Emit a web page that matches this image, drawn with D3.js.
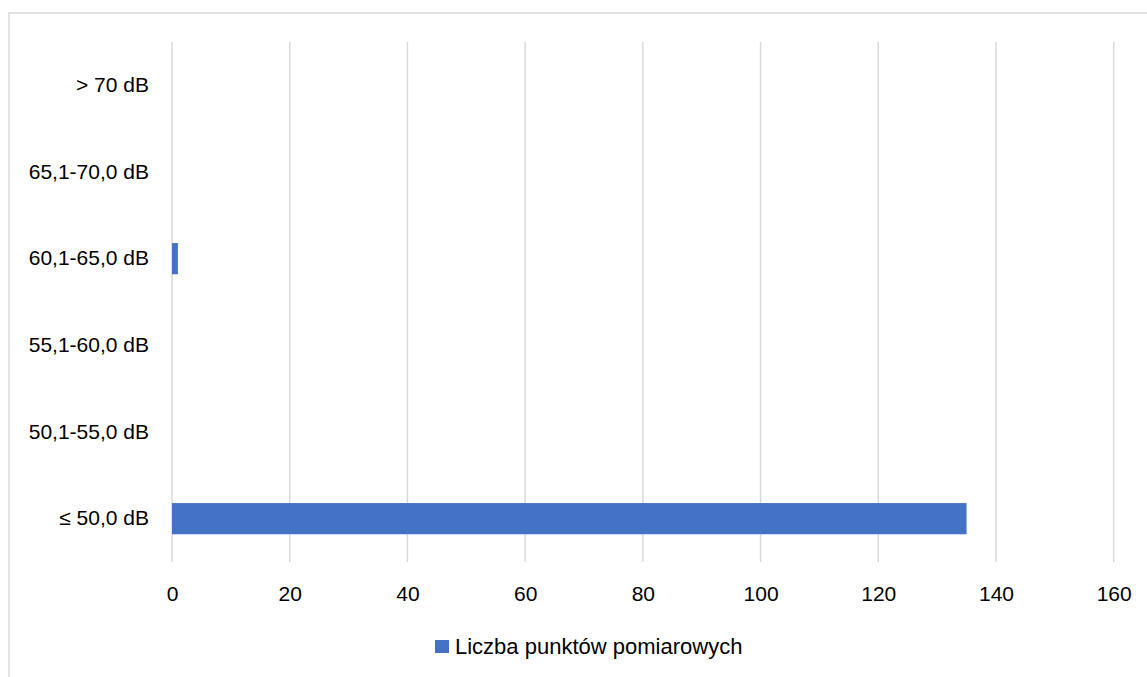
<!DOCTYPE html>
<html>
  <head>
    <meta charset="utf-8">
    <script src="https://d3js.org/d3.v7.min.js"></script>
    <style type="text/css">
      body {
        margin: 0;
        padding: 0;
        background: #fff;
      }
      svg text {
        font-family: 'Liberation Sans', Arial, sans-serif;
        fill: #000;
      }
    </style>
  </head>
  <body>
    <svg id="chart" width="1147" height="677"></svg>
    <script>
      /* Data */
      const categories = ['> 70 dB', '65,1-70,0 dB', '60,1-65,0 dB', '55,1-60,0 dB', '50,1-55,0 dB', '≤ 50,0 dB']
      const values = [0, 0, 1, 0, 0, 135]
      const xTicks = [0, 20, 40, 60, 80, 100, 120, 140, 160]
      const seriesName = 'Liczba punktów pomiarowych'

      const barColor = '#4472C4'
      const gridColor = '#d9d9d9'

      const svg = d3.select('#chart')

      // chart area border (clipped by the window on right and bottom)
      svg.append('rect')
        .attr('x', 9)
        .attr('y', 13)
        .attr('width', 1200)
        .attr('height', 720)
        .attr('fill', 'none')
        .attr('stroke', gridColor)
        .attr('stroke-width', 1.5)

      const plot = { left: 172, right: 1113.7, top: 42, bottom: 562 }

      const x = d3.scaleLinear()
        .domain([0, 160])
        .range([plot.left, plot.right])

      const y = d3.scaleBand()
        .domain(categories)
        .range([plot.top, plot.bottom])
        .paddingInner(0.64)
        .paddingOuter(0.32)

      // gridlines
      svg.append('g')
        .selectAll('line')
        .data(xTicks)
        .join('line')
          .attr('x1', d => x(d))
          .attr('x2', d => x(d))
          .attr('y1', plot.top)
          .attr('y2', plot.bottom)
          .attr('stroke', gridColor)
          .attr('stroke-width', 1.5)

      // x axis labels
      const xAxis = d3.axisBottom(x)
        .tickValues(xTicks)
        .tickSize(0)
        .tickPadding(0)
      const gx = svg.append('g')
        .attr('transform', `translate(0,${plot.bottom})`)
        .call(xAxis)
      gx.select('.domain').remove()
      gx.selectAll('text')
        .attr('dy', null)
        .attr('y', 39)
        .style('font-size', '21px')
        .attr('fill', '#000')

      // y axis labels
      const yAxis = d3.axisLeft(y)
        .tickSize(0)
        .tickPadding(0)
      const gy = svg.append('g')
        .attr('transform', `translate(149,0)`)
        .call(yAxis)
      gy.select('.domain').remove()
      gy.selectAll('text')
        .style('font-size', '21px')
        .attr('fill', '#000')

      // bars
      svg.append('g')
        .selectAll('rect')
        .data(values)
        .join('rect')
          .attr('x', x(0))
          .attr('y', (d, i) => y(categories[i]))
          .attr('width', d => x(d) - x(0))
          .attr('height', y.bandwidth())
          .attr('fill', barColor)

      // legend
      const legend = svg.append('g')
        .attr('transform', 'translate(435,640)')
      legend.append('rect')
        .attr('width', 14)
        .attr('height', 13)
        .attr('fill', barColor)
      legend.append('text')
        .attr('x', 20)
        .attr('y', 6.5)
        .attr('dy', '0.35em')
        .style('font-size', '22px')
        .text(seriesName)
    </script>
  </body>
</html>
